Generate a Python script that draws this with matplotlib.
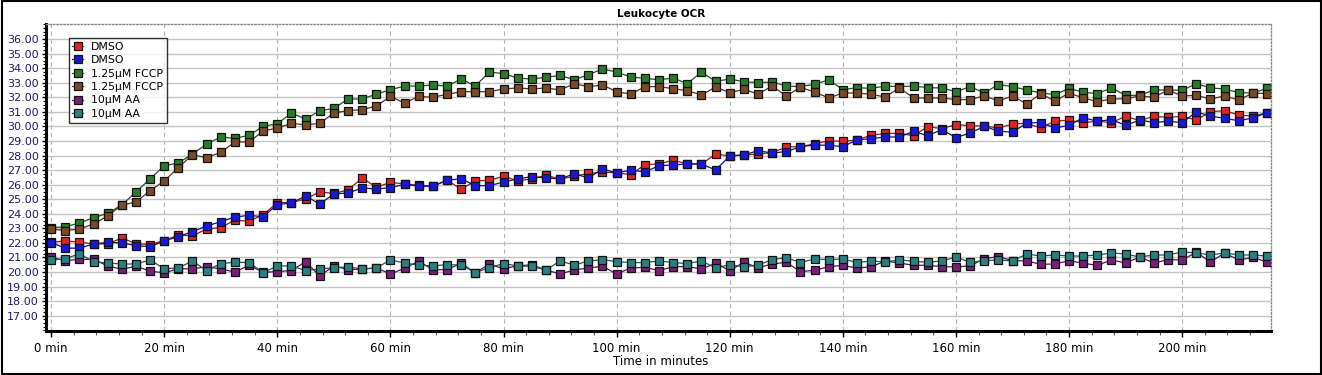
import numpy as np
import matplotlib
matplotlib.use("Agg")
import matplotlib.pyplot as plt
from matplotlib.patches import Rectangle
from matplotlib.ticker import MultipleLocator, FormatStrFormatter

# time points, every 2.5 min
minutes = np.arange(87) * 2.5

dmso_red = [22.04, 22.13, 22.06, 21.93, 21.93, 22.34, 21.95, 21.88, 22.16, 22.54,
            22.48, 22.96, 23.05, 23.57, 23.48, 23.94, 24.76, 24.76, 25.02, 25.50,
            25.40, 25.63, 26.46, 25.82, 26.16, 26.05, 25.95, 25.90, 26.30, 25.70,
            26.25, 26.30, 26.57, 26.27, 26.39, 26.64, 26.39, 26.57, 26.78, 26.85,
            26.82, 26.69, 27.37, 27.42, 27.69, 27.42, 27.42, 28.10, 27.97, 28.04,
            28.10, 28.20, 28.59, 28.61, 28.80, 29.02, 28.97, 29.07, 29.39, 29.52,
            29.52, 29.36, 29.98, 29.85, 30.12, 30.05, 30.02, 29.89, 30.16, 30.21,
            29.89, 30.37, 30.42, 30.26, 30.35, 30.26, 30.69, 30.40, 30.69, 30.62,
            30.69, 30.44, 31.01, 31.08, 30.78, 30.70, 30.94]
dmso_blue = [22.02, 21.65, 21.63, 21.93, 22.04, 22.00, 21.81, 21.74, 22.13, 22.43,
             22.77, 23.16, 23.46, 23.78, 23.89, 23.80, 24.63, 24.74, 25.22, 24.67,
             25.36, 25.43, 25.77, 25.70, 25.79, 26.02, 25.90, 25.89, 26.30, 26.41,
             25.93, 25.93, 26.18, 26.39, 26.55, 26.46, 26.39, 26.75, 26.46, 27.08,
             26.80, 27.00, 26.87, 27.30, 27.35, 27.42, 27.42, 27.00, 27.97, 28.04,
             28.33, 28.17, 28.27, 28.61, 28.72, 28.70, 28.61, 29.07, 29.16, 29.27,
             29.27, 29.66, 29.36, 29.78, 29.23, 29.55, 30.00, 29.68, 29.59, 30.23,
             30.26, 29.89, 30.07, 30.60, 30.35, 30.46, 30.07, 30.44, 30.26, 30.35,
             30.26, 30.99, 30.71, 30.55, 30.39, 30.58, 30.94]
fccp_green = [23.05, 23.10, 23.37, 23.73, 24.03, 24.60, 25.50, 26.39, 27.30, 27.49,
              28.10, 28.79, 29.27, 29.18, 29.39, 30.00, 30.19, 30.90, 30.51, 31.06,
              31.24, 31.88, 31.88, 32.22, 32.52, 32.77, 32.77, 32.84, 32.77, 33.25,
              32.77, 33.73, 33.62, 33.32, 33.25, 33.37, 33.50, 33.20, 33.55, 33.94,
              33.73, 33.39, 33.30, 33.20, 33.32, 32.93, 33.73, 33.09, 33.25, 33.07,
              33.00, 33.05, 32.77, 32.73, 32.89, 33.20, 32.52, 32.66, 32.61, 32.77,
              32.73, 32.77, 32.66, 32.64, 32.38, 32.73, 32.30, 32.87, 32.73, 32.50,
              32.30, 32.18, 32.61, 32.34, 32.25, 32.64, 32.13, 32.13, 32.50, 32.50,
              32.48, 32.93, 32.64, 32.57, 32.32, 32.29, 32.61]
fccp_brown = [22.95, 22.85, 22.95, 23.30, 23.85, 24.60, 24.80, 25.59, 26.25, 27.17,
              28.05, 27.85, 28.22, 28.93, 28.93, 29.68, 29.89, 30.21, 30.10, 30.21,
              30.92, 31.08, 31.15, 31.40, 32.06, 31.60, 32.06, 32.00, 32.20, 32.38,
              32.38, 32.38, 32.57, 32.64, 32.57, 32.64, 32.50, 32.93, 32.73, 32.84,
              32.38, 32.22, 32.73, 32.73, 32.59, 32.45, 32.16, 32.70, 32.32, 32.54,
              32.22, 32.77, 32.09, 32.68, 32.36, 31.95, 32.29, 32.29, 32.20, 32.02,
              32.64, 31.95, 31.95, 31.95, 31.84, 31.84, 32.10, 31.74, 32.09, 31.54,
              32.25, 31.74, 32.29, 31.95, 31.70, 31.88, 31.90, 32.09, 32.00, 32.50,
              32.09, 32.13, 31.88, 32.09, 31.81, 32.29, 32.25]
aa_purple = [21.01, 20.78, 20.87, 20.87, 20.42, 20.19, 20.39, 20.07, 19.94, 20.23,
             20.21, 20.37, 20.21, 20.00, 20.46, 19.98, 20.03, 20.10, 20.71, 19.73,
             20.42, 20.16, 20.20, 20.28, 19.87, 20.26, 20.74, 20.16, 20.16, 20.60,
             19.96, 20.53, 20.23, 20.42, 20.50, 20.14, 19.87, 20.14, 20.28, 20.39,
             19.87, 20.28, 20.32, 20.10, 20.37, 20.37, 20.21, 20.60, 20.10, 20.67,
             20.30, 20.55, 20.67, 20.03, 20.12, 20.37, 20.46, 20.26, 20.37, 20.75,
             20.62, 20.46, 20.46, 20.37, 20.35, 20.42, 20.92, 21.06, 20.78, 20.76,
             20.53, 20.55, 20.78, 20.60, 20.46, 20.83, 20.62, 21.03, 20.62, 20.85,
             20.83, 21.35, 20.69, 21.30, 20.83, 21.00, 20.69]
aa_teal = [20.83, 20.90, 21.26, 20.71, 20.62, 20.55, 20.55, 20.83, 20.23, 20.28,
           20.76, 20.10, 20.58, 20.67, 20.65, 19.96, 20.42, 20.42, 20.10, 20.21,
           20.30, 20.35, 20.21, 20.28, 20.83, 20.62, 20.48, 20.42, 20.51, 20.48,
           19.96, 20.30, 20.58, 20.42, 20.39, 20.14, 20.76, 20.48, 20.76, 20.85,
           20.71, 20.65, 20.65, 20.76, 20.65, 20.58, 20.76, 20.28, 20.51, 20.35,
           20.48, 20.85, 20.99, 20.65, 20.90, 20.85, 20.90, 20.65, 20.76, 20.69,
           20.83, 20.74, 20.67, 20.76, 21.03, 20.67, 20.78, 20.83, 20.76, 21.24,
           21.10, 21.17, 21.10, 21.10, 21.17, 21.31, 21.24, 21.03, 21.17, 21.17,
           21.38, 21.31, 21.17, 21.31, 21.17, 21.17, 21.10]

series = [
    ("DMSO", dmso_red, "#e02424", "#a01818"),
    ("DMSO", dmso_blue, "#1818d8", "#101090"),
    ("1.25\u00b5M FCCP", fccp_green, "#2a7a2a", "#1c5a1c"),
    ("1.25\u00b5M FCCP", fccp_brown, "#7a4a26", "#5a3418"),
    ("10\u00b5M AA", aa_purple, "#7a1e7a", "#5a145a"),
    ("10\u00b5M AA", aa_teal, "#2a8080", "#1c5c5c"),
]

plt.rcParams['font.family'] = ['DejaVu Sans']
fig = plt.figure(figsize=(13.22, 3.75), dpi=100)
ax = fig.add_axes([0.0348, 0.1173, 0.9266, 0.8187])

for label, vals, face, line in series:
    ax.plot(minutes, vals, color=line, lw=0.9, marker="s", markersize=5.3,
            markerfacecolor=face, markeredgecolor="#111111", markeredgewidth=0.9,
            label=label)

ax.set_xlim(-0.9, 215.7)
ax.set_ylim(15.95, 37.03)

ax.xaxis.set_minor_locator(MultipleLocator(4))
ax.set_xticks(np.arange(0, 201, 20))
ax.set_xticklabels(["%d min" % m for m in range(0, 201, 20)], fontsize=8.5)
ax.set_yticks(np.arange(17, 37, 1))
ax.yaxis.set_major_formatter(FormatStrFormatter("%.2f"))
ax.yaxis.set_minor_locator(MultipleLocator(0.25))
ax.tick_params(axis="y", which="major", labelsize=8, labelcolor="#1c1c6c",
               length=3, width=1, pad=2)
ax.tick_params(axis="y", which="minor", length=2, width=0.8)
ax.tick_params(axis="x", which="major", length=4, width=1, pad=4)
ax.tick_params(axis="x", which="minor", length=3, width=0.8, color="#555555")

ax.grid(axis="y", which="major", color="#c4c4c4", lw=1, ls="-")
ax.grid(axis="x", which="major", color="#b4b4b4", lw=0.8, ls=(0, (4, 3)))
ax.set_axisbelow(True)

ax.spines["left"].set_linewidth(2.2)
ax.spines["bottom"].set_linewidth(2.2)
for side in ("top", "right"):
    ax.spines[side].set_linestyle((0, (1, 1.5)))
    ax.spines[side].set_color("#888888")
    ax.spines[side].set_linewidth(1)

fig.text(0.5, 0.035, "Time in minutes", ha="center", va="center", fontsize=8.5)
fig.text(0.5, 0.962, "Leukocyte OCR", ha="center", va="center",
         fontsize=7.5, fontweight="bold")

leg = ax.legend(loc="upper left", bbox_to_anchor=(0.0185, 0.955), fontsize=7.8,
                frameon=True, fancybox=False, handlelength=1.0,
                handletextpad=0.7, labelspacing=0.32, borderpad=0.35,
                borderaxespad=0)
leg.get_frame().set_edgecolor("black")
leg.get_frame().set_linewidth(1)

fig.patches.append(Rectangle((0.0015, 0.003), 0.9975, 0.994,
                             transform=fig.transFigure, fill=False,
                             edgecolor="black", lw=1.5))

fig.savefig("out.png", dpi=100)
